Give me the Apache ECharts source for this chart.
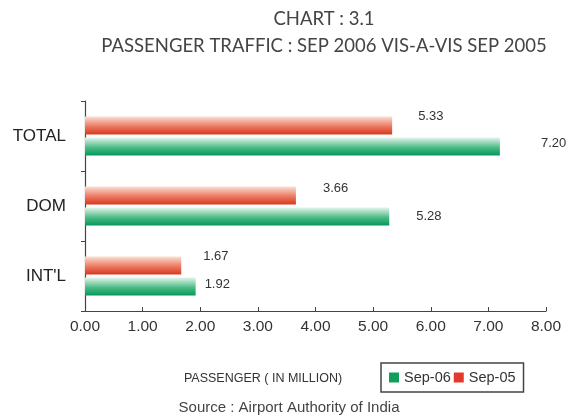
<!DOCTYPE html>
<html>
<head>
<meta charset="utf-8">
<script src="https://cdn.jsdelivr.net/npm/echarts@6/dist/echarts.min.js"></script>
<style>
  html, body { margin: 0; padding: 0; background: #fff; }
  #chart { width: 567px; height: 420px; }
</style>
</head>
<body>
<div id="chart"></div>
<script>
// Passenger traffic, Sep 2006 vs Sep 2005 (million passengers)
const categories = ["INT'L", "DOM", "TOTAL"];
const sep06 = [1.92, 5.28, 7.20];
const sep05 = [1.67, 3.66, 5.33];
const seriesNames = ['Sep-06', 'Sep-05'];
const xTicks = [0, 1, 2, 3, 4, 5, 6, 7, 8];

const chart = echarts.init(document.getElementById('chart'));

function vGrad(light, mid, dark) {
  return new echarts.graphic.LinearGradient(0, 0, 0, 1, [
    { offset: 0, color: light },
    { offset: 0.55, color: mid },
    { offset: 1, color: dark }
  ]);
}

const labelFont = { fontFamily: 'Liberation Sans', fontSize: 13, color: '#333' };

// label nudges per category (INT'L, DOM, TOTAL)
const greenNudge = [[9, -2], [27, 0], [41, -3]];
const redNudge = [[22, -9], [27, -7], [26, -9]];

chart.setOption({
  animation: false,
  title: {
    text: 'CHART : 3.1\nPASSENGER TRAFFIC : SEP 2006 VIS-A-VIS SEP 2005',
    left: 319,
    textAlign: 'center',
    top: 1,
    textStyle: {
      fontFamily: 'Lato',
      fontWeight: 'normal',
      fontSize: 18.5,
      color: '#444',
      lineHeight: 27
    }
  },
  legend: {
    data: [
      { name: seriesNames[0], itemStyle: { color: '#0f9f5a' } },
      { name: seriesNames[1], itemStyle: { color: '#e2392a' } }
    ],
    left: 381,
    top: 363,
    icon: 'rect',
    itemWidth: 10,
    itemHeight: 10,
    itemGap: 3,
    borderColor: '#444',
    borderWidth: 1.5,
    borderRadius: 0,
    padding: [7, 8, 7, 8],
    textStyle: { fontFamily: 'Liberation Sans', fontSize: 14.5, color: '#333' }
  },
  grid: { left: 85, right: 21, top: 101, bottom: 109 },
  xAxis: {
    type: 'value',
    min: 0,
    max: 8,
    interval: 1,
    splitLine: { show: false },
    axisLine: { show: true, lineStyle: { color: '#444', width: 1.2 } },
    axisTick: { show: true, inside: true, length: 4, lineStyle: { color: '#444' } },
    axisLabel: {
      fontFamily: 'Liberation Sans',
      fontSize: 15.5,
      color: '#333',
      margin: 8,
      formatter: v => xTicks.includes(v) ? v.toFixed(2) : ''
    }
  },
  yAxis: {
    type: 'category',
    data: categories,
    axisLine: { show: true, lineStyle: { color: '#444', width: 1.2 } },
    axisTick: { show: true, length: 4, lineStyle: { color: '#444' } },
    axisLabel: {
      fontFamily: 'Liberation Sans',
      fontSize: 17,
      color: '#222',
      margin: 19
    }
  },
  series: [
    {
      name: seriesNames[1],
      type: 'bar',
      barWidth: 18,
      barGap: '18%',
      data: sep05.map((v, i) => ({
        value: v,
        label: { offset: redNudge[i] }
      })),
      itemStyle: { color: vGrad('#fbe0d6', '#ec7a62', '#d9381f') },
      label: {
        show: true,
        position: 'right',
        distance: 0,
        formatter: p => p.value.toFixed(2),
        ...labelFont
      }
    },
    {
      name: seriesNames[0],
      type: 'bar',
      barWidth: 18,
      barGap: '18%',
      data: sep06.map((v, i) => ({
        value: v,
        label: { offset: greenNudge[i] }
      })),
      itemStyle: { color: vGrad('#e2f5ea', '#4cbb85', '#01985a') },
      label: {
        show: true,
        position: 'right',
        distance: 0,
        formatter: p => p.value.toFixed(2),
        ...labelFont
      }
    }
  ],
  graphic: [
    {
      type: 'text',
      x: 263,
      y: 379,
      style: {
        text: 'PASSENGER ( IN MILLION)',
        fontFamily: 'Liberation Sans Narrow, Liberation Sans',
        fontSize: 12.5,
        fill: '#333',
        textAlign: 'center',
        textVerticalAlign: 'middle'
      }
    },
    {
      type: 'text',
      x: 289,
      y: 408,
      style: {
        text: 'Source : Airport Authority of India',
        fontFamily: 'Liberation Sans',
        fontSize: 15,
        fill: '#444',
        textAlign: 'center',
        textVerticalAlign: 'middle'
      }
    }
  ]
});
</script>
</body>
</html>
